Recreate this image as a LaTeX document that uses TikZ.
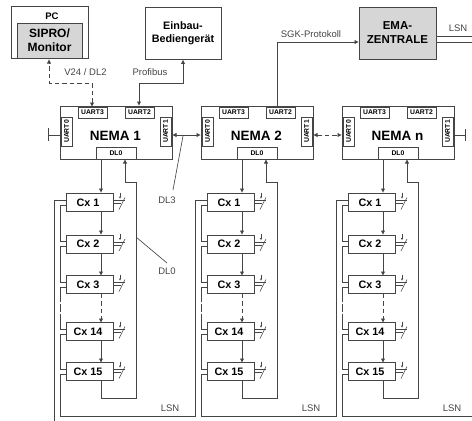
\documentclass[tikz,border=0pt]{standalone}
\usepackage{fontspec}
\setmainfont{Liberation Sans}
\usetikzlibrary{arrows.meta}
\definecolor{linegray}{gray}{0.27}
\definecolor{boxgray}{gray}{0.84}
\tikzset{
  wire/.style={draw=linegray, line width=0.9pt},
  thinwire/.style={draw=linegray, line width=0.65pt},
  flow/.style={wire, -{Latex[length=4.5pt,width=4.5pt]}},
  both/.style={wire, {Latex[length=4.5pt,width=4.5pt]}-{Latex[length=4.5pt,width=4.5pt]}},
  dashwire/.style={dash pattern=on 4.5pt off 3pt},
  gapwire/.style={dash pattern=on 15pt off 2pt on 8pt off 2pt},
  bigbox/.style={draw=linegray, line width=0.9pt, inner sep=0pt, align=center, font=\bfseries},
  nemabox/.style={bigbox, minimum width=112pt, minimum height=53pt},
  uartbox/.style={draw=linegray, line width=0.8pt, fill=white, inner sep=0pt, minimum width=29pt, minimum height=11pt, font=\bfseries\fontsize{6.8}{7}\selectfont},
  dlbox/.style={uartbox, minimum width=40pt, minimum height=12pt},
  cxbox/.style={draw=linegray, line width=0.9pt, fill=white, inner sep=0pt, minimum width=47pt, minimum height=18pt},
  cxtext/.style={inner sep=0pt, font=\bfseries\fontsize{10.8}{11}\selectfont},
  lbl/.style={inner sep=0pt, text=linegray, font=\fontsize{9.5}{10}\selectfont}
}
% one NEMA column, #1 = x shift, #2 = name of the column
\newcommand{\nemacolumn}[3]{
  \begin{scope}[xshift=#1pt]
    \node[nemabox] (nema#2) at (116,132.5) {};
    \node[inner sep=0pt, font=\bfseries\fontsize{13.5}{14}\selectfont] (nematxt#2) at (115.5,136) {#3};
    \node[uartbox] (uartiii#2) at (92.5,112.5) {UART3};
    \node[uartbox] (uartii#2) at (139.5,112.5) {UART2};
    \node[uartbox, rotate=90] (uarto#2) at (66.5,131.5) {UART0};
    \node[uartbox, rotate=90] (uarti#2) at (165.5,131.5) {UART1};
    \node[dlbox] (dl#2) at (116,153) {DL0};
    \coordinate (dlout#2) at (101,159);
    \coordinate (dlin#2) at (125,159);
    \foreach \name/\txt/\ypos in {a/Cx 1/202.5, b/Cx 2/244, c/Cx 3/284.5, d/Cx 14/331.5, e/Cx 15/371.5}{
      \node[cxbox] (cx\name#2) at (89.5,\ypos) {};
      \node[cxtext] at (88,\ypos) {\txt};
      % contact on the right hand side
      \draw[thinwire] (113,\ypos-2) -- (125,\ypos-2);
      \draw[thinwire] (113,\ypos+1) -- (121,\ypos+1);
      \draw[thinwire] (119,\ypos+7) -- (125,\ypos-5);
      \draw[thinwire] (120,\ypos-10) -- (120,\ypos-6);
      \fill[linegray] (118.8,\ypos-6) -- (121.2,\ypos-6) -- (120,\ypos-4) -- cycle;
      % LSN stubs on the left hand side
      \draw[wire] (66,\ypos-2.5) -- (60,\ypos-2.5);
      \draw[wire] (66,\ypos+2.5) -- (60,\ypos+2.5);
    }
    \draw[flow] (dlout#2) -- (101,193);
    \draw[flow] (101,212) -- (101,235);
    \draw[flow] (101,253) -- (101,276);
    \draw[flow, dashwire] (101,293.5) -- (101,323);
    \draw[flow] (101,340.5) -- (101,363);
    \draw[flow] (101,380.5) -- (101,398) -- (136,398) -- (136,182) -- (125,182) -- (dlin#2);
    % LSN between the Cx
    \draw[wire] (60,205) -- (60,241.5);
    \draw[wire] (60,246.5) -- (60,282);
    \draw[wire, gapwire] (60,287) -- (60,329);
    \draw[wire] (60,334) -- (60,369);
    \draw[wire] (60,374) -- (60,416);
    \draw[wire] (66,200) -- (54,200);
  \end{scope}
}
\begin{document}
\begin{tikzpicture}[x=1pt, y=-1pt]
  \useasboundingbox (0,0) rectangle (472,421);

  %% top row
  \node[bigbox, minimum width=77pt, minimum height=52pt] (pc) at (49.5,32) {};
  \node[inner sep=0pt, font=\bfseries\fontsize{9.5}{10}\selectfont] (pctxt) at (52,16) {PC};
  \node[bigbox, fill=boxgray, minimum width=65pt, minimum height=35pt, font=\bfseries\fontsize{12}{14}\selectfont] (sipro) at (49.5,40.5) {SIPRO/\\Monitor};
  \node[bigbox, minimum width=76pt, minimum height=52pt, font=\bfseries\fontsize{10.8}{13}\selectfont] (einbau) at (183,33) {Einbau-\\Bediengerät};
  \node[bigbox, fill=boxgray, minimum width=77pt, minimum height=52pt, font=\bfseries\fontsize{11.5}{14}\selectfont] (ema) at (397.5,33) {EMA-\\ZENTRALE};

  %% columns
  \nemacolumn{0}{one}{NEMA 1}
  \nemacolumn{141}{two}{NEMA 2}
  \nemacolumn{282}{three}{NEMA n}

  %% top connections
  \coordinate (sgkbend) at (277,42);
  \draw[both, dashwire] (92,107) -- (92,83) -- (49,83) -- (49,59);
  \draw[both] (139,106) -- (139,83) -- (183,83) -- (einbau.south);
  \draw[flow] (277,106) -- (sgkbend) -- (359,42);

  %% between the NEMA
  \draw[both] (172,135) -- (201,135);
  \draw[both, dashwire] (313,135) -- (342,135);
  \draw[wire] (60,135) -- (48,135);
  \draw[wire] (48,128) -- (48,141);
  \draw[wire] (453,135) -- (465,135);
  \draw[wire] (465,129) -- (465,141);

  %% LSN
  \coordinate (lsnend) at (472,416);
  \draw[wire] (54,200) -- (54,421);
  \draw[wire] (60,416) -- (195,416) -- (195,200);
  \draw[wire] (201,416) -- (336,416) -- (336,200);
  \draw[wire] (342,416) -- (lsnend);
  \draw[wire] (ema.east |- 0,36) -- (472,36);
  \draw[wire] (ema.east |- 0,42) -- (472,42);

  %% labels
  \node[lbl] (v24) at (85.5,72.5) {V24 / DL2};
  \node[lbl] (profi) at (150,72.5) {Profibus};
  \node[lbl] (sgk) at (311,34.5) {SGK-Protokoll};
  \node[lbl] (lsna) at (458,28) {LSN};
  \node[lbl] (dlthree) at (167,200) {DL3};
  \node[lbl] (dlzero) at (167,271) {DL0};
  \node[lbl] (lsnb) at (170,408) {LSN};
  \node[lbl] (lsnc) at (311,408) {LSN};
  \node[lbl] (lsnd) at (452,408) {LSN};
  \draw[thinwire] (183,136) -- (173,190);
  \draw[thinwire] (136,237) -- (167,263);
\end{tikzpicture}
\end{document}
